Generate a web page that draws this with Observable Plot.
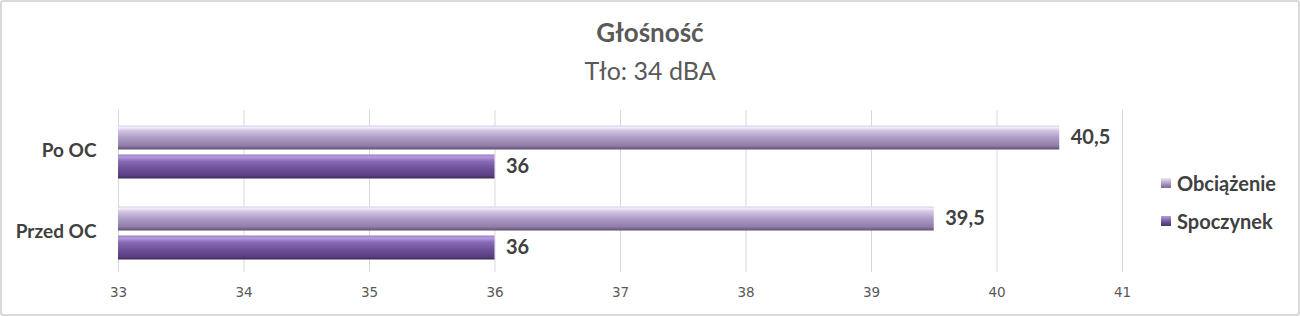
<!DOCTYPE html>
<html>
<head>
<meta charset="utf-8">
<script src="https://cdn.jsdelivr.net/npm/d3@7"></script>
<script src="https://cdn.jsdelivr.net/npm/@observablehq/plot@0.6"></script>
<style>
  html, body { margin: 0; padding: 0; background: #fff; }
  #wrap { position: relative; width: 1300px; height: 316px; overflow: hidden; }
  #border { position: absolute; left: 0; top: 0; width: 1296px; height: 312px; border: 2px solid #d9d9d9; border-radius: 3px; pointer-events: none; }
  #title { position: absolute; left: 0; width: 1300px; top: 16px; text-align: center; font-family: Lato, "Open Sans", sans-serif; font-weight: bold; font-size: 26px; color: #595959; }
  #subtitle { position: absolute; left: 0; width: 1300px; top: 55px; text-align: center; font-family: Lato, "Open Sans", sans-serif; font-size: 25px; color: #595959; }
  #legend { position: absolute; left: 1161px; top: 164px; font-family: Lato, "Open Sans", sans-serif; font-weight: bold; font-size: 20px; color: #404040; }
  .li { display: flex; align-items: center; height: 38px; }
  .sw { width: 10px; height: 10px; margin-right: 6px; }
  #chart { position: absolute; left: 0; top: 0; }
</style>
</head>
<body>
<div id="wrap">
  <div id="chart"></div>
  <div id="title">Głośność</div>
  <div id="subtitle">Tło: 34 dBA</div>
  <div id="legend"></div>
  <div id="border"></div>
</div>
<script>
const categories = ["Po OC", "Przed OC"];
const series = ["Obciążenie", "Spoczynek"];
const obciazenie = [40.5, 39.5];
const spoczynek = [36, 36];
const xTicks = [33, 34, 35, 36, 37, 38, 39, 40, 41];

const gradIds = {"Obciążenie": "gLight", "Spoczynek": "gDark"};

const data = [];
categories.forEach((c, i) => {
  data.push({cat: c, series: series[0], value: obciazenie[i]});
  data.push({cat: c, series: series[1], value: spoczynek[i]});
});
const xMin = xTicks[0];
const fmt = v => String(v).replace(".", ",");

const chart = Plot.plot({
  width: 1300,
  height: 316,
  marginTop: 110,
  marginBottom: 44,
  marginLeft: 118,
  marginRight: 178,
  style: {fontFamily: "Lato, 'Open Sans', sans-serif", background: "transparent"},
  x: {domain: [xTicks[0], xTicks[xTicks.length - 1]], ticks: xTicks, label: null, axis: null},
  y: {domain: series, paddingInner: 0.15, paddingOuter: 0.45, align: 0.55, axis: null},
  fy: {domain: categories, padding: 0, label: null, axis: null},
  facet: {data, y: "cat"},
  marks: [
    Plot.gridX(xTicks, {stroke: "#d9d9d9", strokeOpacity: 1, strokeWidth: 1}),
    Plot.barX(data, {y: "series", x1: () => xMin, x2: "value", fill: d => `url(#${gradIds[d.series]})`, insetTop: 0.5, insetBottom: 0.5}),
    Plot.text(data, {y: "series", x: "value", text: d => fmt(d.value), dx: 11, textAnchor: "start", fontWeight: "bold", fontSize: 20, fill: "#404040"}),
    Plot.axisX(xTicks, {tickSize: 0, tickPadding: 15, fontSize: 14, fill: "#595959", tickFormat: d => d, label: null}),
    Plot.axisFy({anchor: "left", tickSize: 0, tickPadding: 22, fontSize: 19, fontWeight: "bold", fill: "#404040", label: null})
  ]
});

const svgEl = chart.tagName.toLowerCase() === "svg" ? chart : chart.querySelector("svg");
d3.select(svgEl).selectAll('g[aria-label*="x-axis"] text').style("font-family", "'DejaVu Sans', sans-serif").style("font-size", "13.5px");
const defs = d3.select(svgEl).insert("defs", ":first-child");
function grad(id, stops) {
  const g = defs.append("linearGradient").attr("id", id).attr("x1", 0).attr("y1", 0).attr("x2", 0).attr("y2", 1);
  stops.forEach(([o, c]) => g.append("stop").attr("offset", o).attr("stop-color", c));
}
grad("gLight", [[0, "#d9cce8"], [0.08, "#f4ecfa"], [0.22, "#d2c4e3"], [0.5, "#ae9dc6"], [0.85, "#8f7ca8"], [1, "#5e4f70"]]);
grad("gDark", [[0, "#9a7cc4"], [0.1, "#b79ce0"], [0.28, "#8a6bb7"], [0.6, "#6c4f98"], [0.88, "#5a3f82"], [1, "#3c2a56"]]);
document.getElementById("chart").appendChild(chart);

const legend = document.getElementById("legend");
series.forEach(s => {
  const row = document.createElement("div");
  row.className = "li";
  const sw = document.createElement("div");
  sw.className = "sw";
  sw.style.background = s === series[0]
    ? "linear-gradient(#f0e6f8, #a593bf 60%, #7d6b95)"
    : "linear-gradient(#b79ce0, #6c4f98 60%, #4a3168)";
  const t = document.createElement("span");
  t.textContent = s;
  row.appendChild(sw);
  row.appendChild(t);
  legend.appendChild(row);
});
</script>
</body>
</html>
